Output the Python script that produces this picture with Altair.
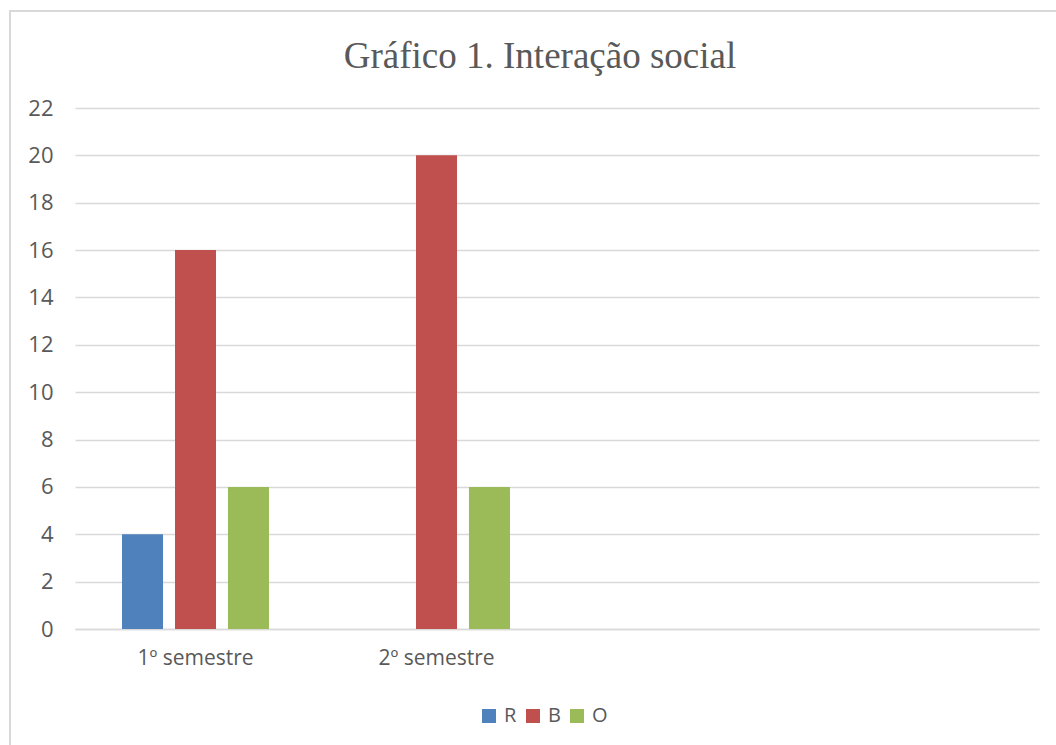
import altair as alt
import pandas as pd

categories = ["1º semestre", "2º semestre"]
axis_slots = ["1º semestre", "2º semestre", " ", "  "]
series = ["R", "B", "O"]
r_values = [4, 0]
b_values = [16, 20]
o_values = [6, 6]
colors = ["#4F81BD", "#C0504D", "#9BBB59"]
y_ticks = list(range(0, 23, 2))

rows = []
for name, vals in zip(series, [r_values, b_values, o_values]):
    for c, v in zip(categories, vals):
        rows.append({"Semestre": c, "Série": name, "Valor": v})
df = pd.DataFrame(rows)

bars = alt.Chart(df).mark_bar().encode(
    x=alt.X("Semestre:N", scale=alt.Scale(domain=axis_slots, paddingInner=0, paddingOuter=0),
            sort=axis_slots,
            axis=alt.Axis(title=None, labelAngle=0, ticks=False, domain=True, domainColor="#D9D9D9",
                          domainWidth=1.5, labelFont="Open Sans", labelFontSize=21,
                          labelColor="#595959", labelPadding=18, grid=False)),
    xOffset=alt.XOffset("Série:N", sort=series,
                        scale=alt.Scale(domain=series, paddingInner=0.226, paddingOuter=0.887)),
    y=alt.Y("Valor:Q", scale=alt.Scale(domain=[0, 22], nice=False),
            axis=alt.Axis(title=None, values=y_ticks, ticks=False, domain=False,
                          gridColor="#D9D9D9", gridWidth=1.5, labelFont="Open Sans",
                          labelFontSize=22, labelColor="#595959", labelPadding=22)),
    color=alt.Color("Série:N", sort=series,
                    scale=alt.Scale(domain=series, range=colors),
                    legend=alt.Legend(title=None, orient="none", direction="horizontal",
                                      legendX=404, legendY=598, symbolType="square",
                                      symbolSize=196, symbolStrokeWidth=0, labelFont="Open Sans",
                                      labelFontSize=20, labelColor="#595959",
                                      columnPadding=6, labelOffset=5)),
)

frame = alt.Chart(pd.DataFrame({"k": [0]})).mark_rect(
    fill=None, stroke="#D9D9D9", strokeWidth=2, clip=False
).encode(
    x=alt.value(-65), x2=alt.value(1100), y=alt.value(-97), y2=alt.value(700)
)

chart = alt.layer(frame, bars).properties(
    width=964,
    height=521,
    autosize=alt.AutoSizeParams(type="none"),
    padding={"left": 75, "top": 108, "right": 17, "bottom": 116},
    title=alt.TitleParams("Gráfico 1. Interação social", font="Liberation Serif", fontSize=37,
                          fontWeight="normal", color="#595959", anchor="middle", dx=-17,
                          baseline="alphabetic", offset=-95),
).configure(background="white", view=alt.ViewConfig(stroke=None))

chart.save("out.html", embed_options={"renderer": "svg", "actions": False})
